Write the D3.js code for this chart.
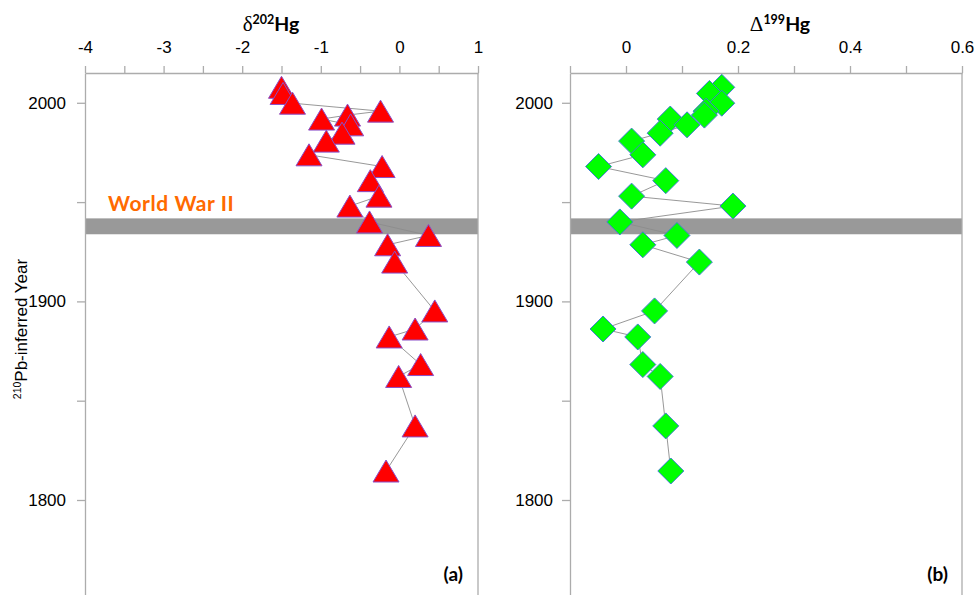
<!DOCTYPE html>
<html lang="en">
<head>
    <meta charset="UTF-8">
    <title>Hg isotopes vs 210Pb-inferred year</title>
    <script src="https://d3js.org/d3.v7.min.js"></script>
    <style>
        body { margin: 0; background: #fff; }
        svg { display: block; }
        .tick text { font-family: "Liberation Sans", Arial, sans-serif; font-size: 17px; fill: #000; }
        .tick line, .domain { stroke: #acacac; stroke-width: 1.3; }
    </style>
</head>
<body>
<div id="chart"></div>
<script>
    // sediment core samples, newest first
    const years = [2007.8, 2004.7, 1999.8, 1995.8, 1993.8, 1991.8, 1988.9, 1984.7, 1980.7, 1973.8,
                   1967.9, 1960.8, 1953.0, 1948.0, 1940.0, 1933.2, 1928.5, 1919.8, 1895.2, 1886.1,
                   1882.1, 1868.2, 1862.2, 1837.3, 1814.6];
    const d202Hg = [-1.50, -1.48, -1.36, -0.24, -0.66, -0.99, -0.62, -0.73, -0.93, -1.15,
                    -0.22, -0.37, -0.26, -0.63, -0.38, 0.37, -0.15, -0.06, 0.45, 0.20,
                    -0.13, 0.27, -0.01, 0.20, -0.17];
    const D199Hg = [0.171, 0.149, 0.171, 0.143, 0.140, 0.079, 0.109, 0.061, 0.010, 0.030,
                    -0.049, 0.071, 0.010, 0.191, -0.011, 0.091, 0.030, 0.131, 0.051, -0.041,
                    0.021, 0.030, 0.061, 0.071, 0.080];

    const yearTicks = [2000, 1950, 1900, 1850, 1800];
    const yearLabels = [2000, 1900, 1800];
    const leftTicks = d3.range(-4, 1.01, 0.5);
    const leftLabels = [-4, -3, -2, -1, 0, 1];
    const rightTicks = d3.range(-0.1, 0.61, 0.1).map(v => +v.toFixed(1));
    const rightLabels = [0, 0.2, 0.4, 0.6];
    const warYears = [1933.8, 1941.8];

    const width = 975, height = 595;
    const plotTop = 73, plotBottom = 599.3;

    const svg = d3.select("#chart").append("svg")
        .attr("width", width)
        .attr("height", height);

    const y = d3.scaleLinear().domain([2015, 1750]).range([plotTop, plotBottom]);

    const panels = [
        { values: d202Hg, domain: [-4, 1], range: [85, 478], ticks: leftTicks, labels: leftLabels,
          marker: "M0,-11L13,11L-13,11Z", fill: "#ff0000", stroke: "#8a4fc8",
          title: ["\u03b4", "202", "Hg"], titleX: 271, tag: "(a)", tagX: 463, yPad: 11 },
        { values: D199Hg, domain: [-0.1, 0.6], range: [570, 962], ticks: rightTicks, labels: rightLabels,
          marker: "M0,-13L13,0L0,13L-13,0Z", fill: "#00ff00", stroke: "#3f7fcf",
          title: ["\u0394", "199", "Hg"], titleX: 780, tag: "(b)", tagX: 948, yPad: 9 }
    ];

    panels.forEach(p => {
        const x = d3.scaleLinear().domain(p.domain).range(p.range);
        const g = svg.append("g");

        // WWII band
        g.append("rect")
            .attr("x", p.range[0])
            .attr("width", p.range[1] - p.range[0])
            .attr("y", y(warYears[1]))
            .attr("height", y(warYears[0]) - y(warYears[1]))
            .attr("fill", "#999999");

        // right border
        g.append("line")
            .attr("x1", p.range[1]).attr("x2", p.range[1])
            .attr("y1", plotTop).attr("y2", plotBottom)
            .attr("stroke", "#acacac").attr("stroke-width", 1.3);

        g.append("g")
            .attr("transform", `translate(0,${plotTop})`)
            .call(d3.axisTop(x)
                .tickValues(p.ticks)
                .tickSize(7)
                .tickSizeOuter(0)
                .tickPadding(13)
                .tickFormat(d => p.labels.some(l => Math.abs(l - d) < 1e-9) ? String(d) : ""));

        g.append("g")
            .attr("transform", `translate(${p.range[0]},0)`)
            .call(d3.axisLeft(y)
                .tickValues(yearTicks)
                .tickSize(8)
                .tickSizeOuter(0)
                .tickPadding(p.yPad)
                .tickFormat(d => yearLabels.includes(d) ? d : ""));

        const pts = years.map((yr, j) => [yr, p.values[j]]);

        g.append("path")
            .datum(pts)
            .attr("fill", "none")
            .attr("stroke", "#8c8c8c")
            .attr("stroke-width", 0.9)
            .attr("d", d3.line().x(d => x(d[1])).y(d => y(d[0])));

        g.append("g")
            .selectAll("path")
            .data(pts)
            .enter()
            .append("path")
            .attr("d", p.marker)
            .attr("transform", d => `translate(${x(d[1])},${y(d[0])})`)
            .attr("fill", p.fill)
            .attr("stroke", p.stroke)
            .attr("stroke-width", 1);

        // axis title
        const t = svg.append("text")
            .attr("x", p.titleX)
            .attr("y", 31)
            .attr("text-anchor", "middle")
            .attr("font-size", 19.5);
        t.append("tspan")
            .attr("font-family", "'Liberation Serif', 'DejaVu Serif', serif")
            .attr("font-size", 21)
            .text(p.title[0]);
        t.append("tspan")
            .attr("font-family", "Lato, sans-serif")
            .attr("font-weight", "bold")
            .attr("font-size", 12.5)
            .attr("dy", -7)
            .text(p.title[1]);
        t.append("tspan")
            .attr("font-family", "Lato, sans-serif")
            .attr("font-weight", "bold")
            .attr("dy", 7)
            .text(p.title[2]);

        svg.append("text")
            .attr("x", p.tagX)
            .attr("y", 581)
            .attr("text-anchor", "end")
            .attr("font-family", "Lato, sans-serif")
            .attr("font-weight", "bold")
            .attr("font-size", 19)
            .text(p.tag);
    });

    svg.append("text")
        .attr("x", 108)
        .attr("y", 211)
        .attr("font-family", "Lato, sans-serif")
        .attr("font-weight", "bold")
        .attr("font-size", 21)
        .attr("letter-spacing", 0.6)
        .attr("fill", "#ff6a00")
        .text("World War II");

    // y axis title
    const yt = svg.append("text")
        .attr("transform", "translate(27,329) rotate(-90)")
        .attr("text-anchor", "middle")
        .attr("font-family", "'Liberation Sans', Arial, sans-serif")
        .attr("font-size", 17);
    yt.append("tspan").attr("font-size", 10.5).attr("dy", -6).text("210");
    yt.append("tspan").attr("dy", 6).text("Pb-inferred Year");
</script>
</body>
</html>
